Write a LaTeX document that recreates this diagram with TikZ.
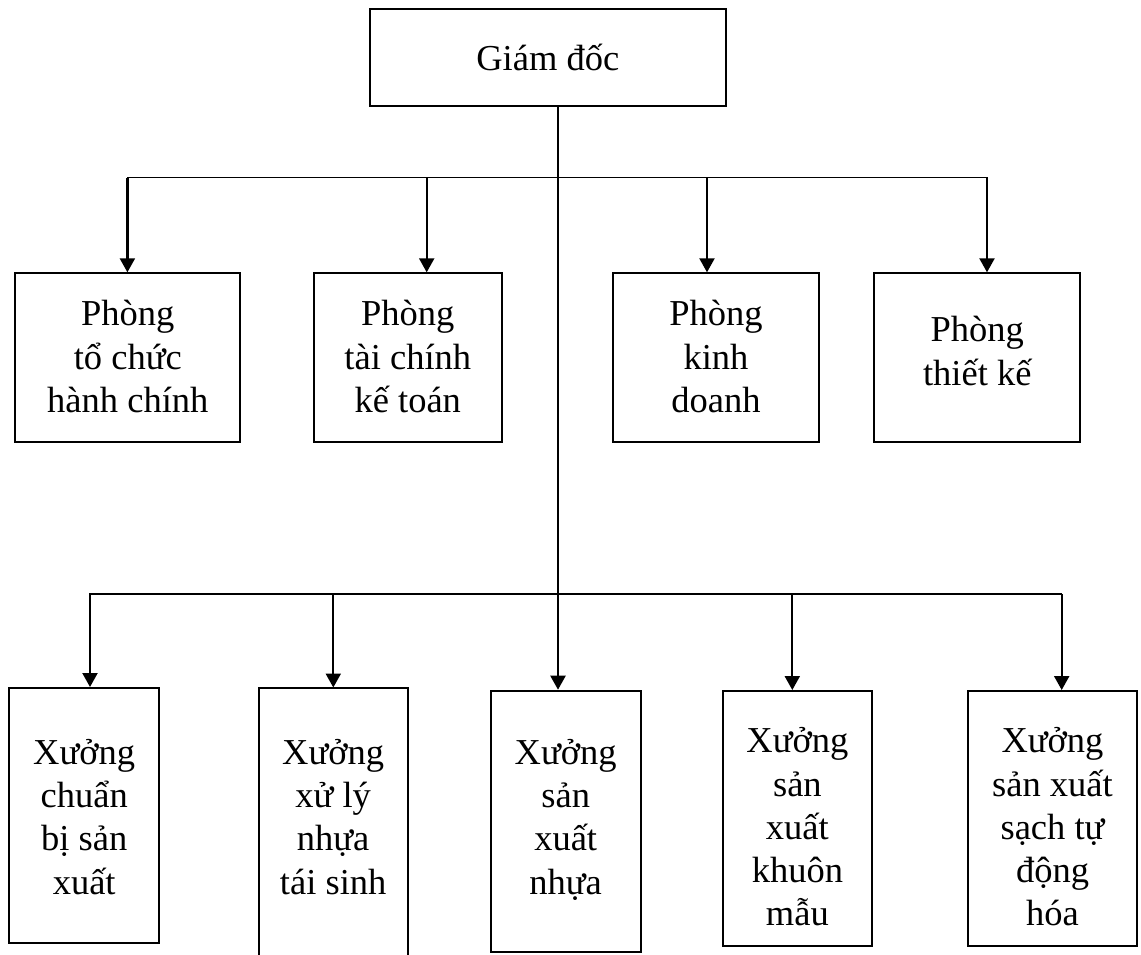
\documentclass[tikz,border=0pt]{standalone}
\usepackage{fontspec}
\setmainfont{Liberation Serif}
\usetikzlibrary{arrows.meta}
% uniform line strut: height 35pt, depth 8pt
\newcommand\lnst{\rule[-8pt]{0pt}{43pt}}
\begin{document}
\begin{tikzpicture}[x=1pt,y=-1pt,
  box/.style={draw, line width=2pt, rectangle, inner sep=0pt},
  openbox/.style={rectangle, inner sep=0pt},
  txt/.style={align=center, inner sep=0pt, anchor=north,
    font=\fontsize{36.5pt}{43.3pt}\selectfont},
  bus/.style={line width=1.4pt, line cap=rect},
  arr/.style={line width=2.2pt, -{Triangle[width=15pt,length=14pt]}}]
\useasboundingbox (0,0) rectangle (1141,954);

% director
\node[box, minimum width=355.7pt, minimum height=96.7pt] (gd) at (547.85,57.65) {};
\node[txt] (gdt) at (547.8,35.5) {\lnst Giám đốc};

% departments
\node[box, minimum width=225pt, minimum height=168.4pt] (p1) at (127.8,357.5) {};
\node[box, minimum width=187.5pt, minimum height=168.4pt] (p2) at (407.75,357.5) {};
\node[box, minimum width=206pt, minimum height=168.4pt] (p3) at (716,357.5) {};
\node[box, minimum width=206pt, minimum height=168.4pt] (p4) at (977.3,357.5) {};
\node[txt] (p1t) at (127.8,290.5) {\lnst Phòng\\\lnst tổ chức\\\lnst hành chính};
\node[txt] (p2t) at (407.8,290.5) {\lnst Phòng\\\lnst tài chính\\\lnst kế toán};
\node[txt] (p3t) at (716,290.5) {\lnst Phòng\\\lnst kinh\\\lnst doanh};
\node[txt] (p4t) at (977.3,306.7) {\lnst Phòng\\\lnst thiết kế};

% workshops
\node[box, minimum width=149.7pt, minimum height=254.7pt] (x1) at (84.15,815.35) {};
\node[openbox, minimum width=149pt, minimum height=268.3pt] (x2) at (333.2,821.85) {};
\draw[line width=2pt] (x2.south west) -- (x2.north west) -- (x2.north east) -- (x2.south east);
\node[box, minimum width=150pt, minimum height=261pt] (x3) at (565.7,821.2) {};
\node[box, minimum width=149.3pt, minimum height=254.7pt] (x4) at (797.35,818.35) {};
\node[box, minimum width=168.4pt, minimum height=254.7pt] (x5) at (1052.5,818.35) {};
\node[txt] (x1t) at (84.2,729) {\lnst Xưởng\\\lnst chuẩn\\\lnst bị sản\\\lnst xuất};
\node[txt] (x2t) at (333.2,729) {\lnst Xưởng\\\lnst xử lý\\\lnst nhựa\\\lnst tái sinh};
\node[txt] (x3t) at (565.7,729) {\lnst Xưởng\\\lnst sản\\\lnst xuất\\\lnst nhựa};
\node[txt] (x4t) at (797.4,717.5) {\lnst Xưởng\\\lnst sản\\\lnst xuất\\\lnst khuôn\\\lnst mẫu};
\node[txt] (x5t) at (1052.5,717.5) {\lnst Xưởng\\\lnst sản xuất\\\lnst sạch tự\\\lnst động\\\lnst hóa};

% junctions on the two distribution lines
\coordinate (j1) at (558,177.5);
\coordinate (j2) at (558,594);
\coordinate (ta1) at (127.4,177.5);
\coordinate (ta2) at (426.7,177.5);
\coordinate (ta3) at (707,177.5);
\coordinate (ta4) at (987,177.5);
\coordinate (tb1) at (90,594);
\coordinate (tb2) at (333.3,594);
\coordinate (tb4) at (792.3,594);
\coordinate (tb5) at (1061.7,594);

% trunk and distribution lines
\draw[bus] (gd.south -| j1) -- (j2);
\draw[bus] (ta1) -- (ta4);
\draw[bus] (tb1) -- (tb5);

% arrows to departments
\draw[arr] (ta1) -- (ta1 |- p1.north);
\draw[arr] (ta2) -- (ta2 |- p2.north);
\draw[arr] (ta3) -- (ta3 |- p3.north);
\draw[arr] (ta4) -- (ta4 |- p4.north);

% arrows to workshops
\draw[arr] (tb1) -- (tb1 |- x1.north);
\draw[arr] (tb2) -- (tb2 |- x2.north);
\draw[arr] (j2) -- (j2 |- x3.north);
\draw[arr] (tb4) -- (tb4 |- x4.north);
\draw[arr] (tb5) -- (tb5 |- x5.north);
\end{tikzpicture}
\end{document}
